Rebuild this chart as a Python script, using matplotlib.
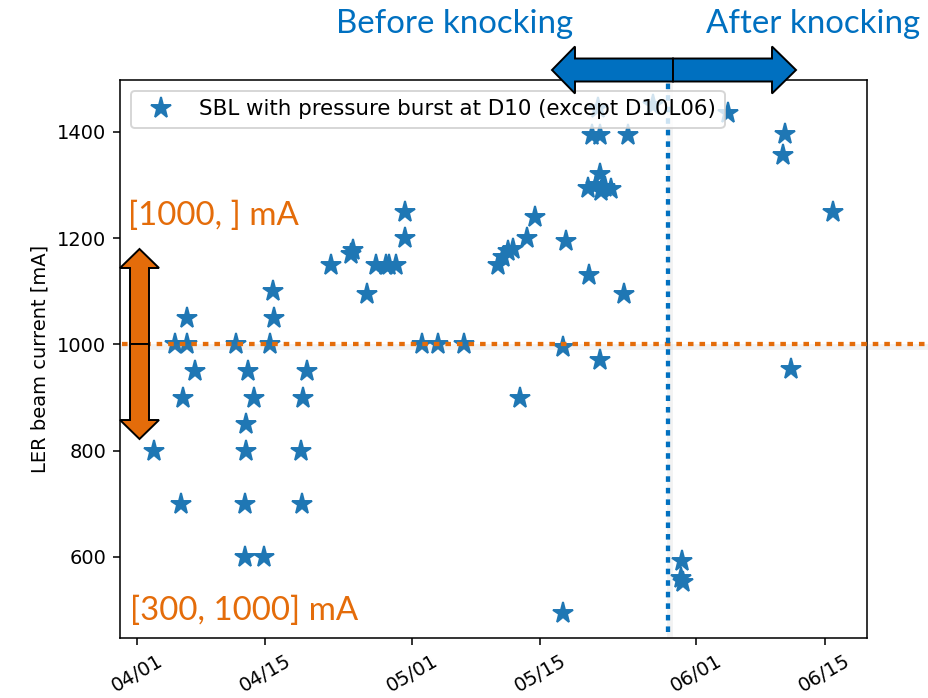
import numpy as np
import pandas as pd
import matplotlib
matplotlib.use('Agg')
import matplotlib.pyplot as plt
import matplotlib.dates as mdates
import matplotlib.transforms as mtransforms
from matplotlib.patches import Polygon

# SBL events with a pressure burst at D10 (date, LER beam current [mA])
event_time = ['2022-04-02 20:00', '2022-04-05 04:00', '2022-04-06 10:00', '2022-04-05 18:00',
              '2022-04-06 00:00', '2022-04-06 10:00', '2022-04-07 08:00', '2022-04-11 20:00',
              '2022-04-13 01:00', '2022-04-13 18:00', '2022-04-12 20:00', '2022-04-12 21:00',
              '2022-04-12 18:00', '2022-04-12 18:00', '2022-04-14 20:00', '2022-04-15 19:00',
              '2022-04-15 22:00', '2022-04-15 11:00', '2022-04-19 12:00', '2022-04-19 02:00',
              '2022-04-18 20:00', '2022-04-19 00:00', '2022-04-22 03:00', '2022-04-24 07:00',
              '2022-04-24 14:00', '2022-04-26 02:00', '2022-04-27 02:00', '2022-04-28 04:00',
              '2022-04-28 12:00', '2022-04-29 05:00', '2022-04-30 06:00', '2022-04-30 06:00',
              '2022-05-02 01:00', '2022-05-03 19:00', '2022-05-06 17:00', '2022-05-10 09:00',
              '2022-05-10 22:00', '2022-05-11 12:00', '2022-05-12 00:00', '2022-05-13 12:00',
              '2022-05-14 09:00', '2022-05-12 18:00', '2022-05-17 10:00', '2022-05-17 11:00',
              '2022-05-17 20:00', '2022-05-20 08:00', '2022-05-21 12:00', '2022-05-24 03:00',
              '2022-05-20 14:00', '2022-05-21 12:00', '2022-05-24 14:00', '2022-05-20 04:00',
              '2022-05-21 01:00', '2022-05-21 12:00', '2022-05-21 14:00', '2022-05-22 02:00',
              '2022-05-22 17:00', '2022-05-21 06:00', '2022-05-27 06:00', '2022-06-04 11:00',
              '2022-06-10 16:00', '2022-06-10 11:00', '2022-06-15 22:00', '2022-06-11 08:00',
              '2022-05-30 10:00', '2022-05-30 08:00', '2022-05-30 13:00']
event_current = [800, 1000, 1000, 700,
                 900, 1050, 950, 1000,
                 950, 900, 850, 800,
                 700, 600, 600, 1100,
                 1050, 1000, 950, 900,
                 800, 700, 1150, 1170,
                 1178, 1095, 1150, 1150,
                 1150, 1150, 1250, 1200,
                 1000, 1000, 1000, 1150,
                 1165, 1175, 1180, 1200,
                 1240, 900, 995, 495,
                 1195, 1130, 970, 1095,
                 1395, 1395, 1395, 1295,
                 1300, 1320, 1288, 1297,
                 1292, 1445, 1450, 1435,
                 1397, 1356, 1250, 953,
                 593, 561, 552]

knock_time = '2022-05-28 22:00'
threshold = 1000
label = 'SBL with pressure burst at D10 (except D10L06)'

c_blue = '#0070C0'
c_orange = '#E46C0A'

W, H = 928, 698
DPI = 140
fig = plt.figure(figsize=(W / DPI, H / DPI), dpi=DPI)
ax = fig.add_axes([120 / W, 1 - 638 / H, (867 - 120) / W, (638 - 80) / H])

t = pd.to_datetime(event_time)
ax.plot(t, event_current, '*', color='#1f77b4', markersize=11, label=label, linestyle='none')

ax.xaxis.set_major_locator(mdates.DayLocator(bymonthday=[1, 15]))
ax.xaxis.set_major_formatter(mdates.DateFormatter('%m/%d'))
plt.setp(ax.get_xticklabels(), rotation=30)
ax.set_yticks([600, 800, 1000, 1200, 1400])
ax.set_ylabel('LER beam current [mA]')
ax.legend(loc='upper left', fontsize=11)


def px(x, y):
    # pixel position (origin top-left) -> figure fraction
    return (x / W, 1 - y / H)


# threshold line, runs past the right edge of the axes
trans_h = mtransforms.blended_transform_factory(fig.transFigure, ax.transData)
shadow_h = mtransforms.offset_copy(trans_h, fig=fig, x=1, y=-3, units='dots')
ax.plot([122 / W, 926 / W], [threshold, threshold], color='gray', lw=3.0, alpha=0.1,
        transform=shadow_h, clip_on=False, zorder=3)
ax.plot([122 / W, 926 / W], [threshold, threshold], color=c_orange, lw=2.2,
        linestyle=(0, (1.3, 1.4)), transform=trans_h, clip_on=False, zorder=4)

# knocking date line
kt = mdates.date2num(pd.Timestamp(knock_time))
trans_v = mtransforms.blended_transform_factory(ax.transData, fig.transFigure)
shadow_v = mtransforms.offset_copy(trans_v, fig=fig, x=2, y=-2, units='dots')
ax.plot([kt, kt], [1 - 632 / H, 1 - 82 / H], color='gray', lw=3.0, alpha=0.1,
        transform=shadow_v, clip_on=False, zorder=3)
ax.plot([kt, kt], [1 - 632 / H, 1 - 82 / H], color=c_blue, lw=2.2,
        linestyle=(0, (1.3, 1.4)), transform=trans_v, clip_on=False, zorder=4)


def h_arrow(x0, x1, yc, sh, hh, hl, color):
    s = np.sign(x1 - x0)
    hb = x1 - s * hl
    pts = [(x0, yc - sh), (hb, yc - sh), (hb, yc - hh), (x1, yc),
           (hb, yc + hh), (hb, yc + sh), (x0, yc + sh)]
    return Polygon([px(*p) for p in pts], closed=True, transform=fig.transFigure,
                   facecolor=color, edgecolor='black', lw=1.0, zorder=10)


def v_arrow(y0, y1, xc, sh, hh, hl, color):
    s = np.sign(y1 - y0)
    hb = y1 - s * hl
    pts = [(xc - sh, y0), (xc - sh, hb), (xc - hh, hb), (xc, y1),
           (xc + hh, hb), (xc + sh, hb), (xc + sh, y0)]
    return Polygon([px(*p) for p in pts], closed=True, transform=fig.transFigure,
                   facecolor=color, edgecolor='black', lw=1.0, zorder=10)


for p in [h_arrow(673, 552, 70, 11.5, 23.5, 23, c_blue),
          h_arrow(673, 796, 70, 11.5, 23.5, 24, c_blue),
          v_arrow(344, 249, 139.5, 9.5, 19.5, 19, c_orange),
          v_arrow(344, 439, 139.5, 9.5, 19.5, 19, c_orange)]:
    fig.add_artist(p)

fig.text(*px(336, 33), 'Before knocking', color=c_blue, fontsize=17, family='Lato',
         ha='left', va='baseline')
fig.text(*px(706, 33), 'After knocking', color=c_blue, fontsize=17, family='Lato',
         ha='left', va='baseline')
fig.text(*px(128, 225), '[1000, ] mA', color=c_orange, fontsize=17, family='Lato',
         ha='left', va='baseline')
fig.text(*px(130, 620), '[300, 1000] mA', color=c_orange, fontsize=17, family='Lato',
         ha='left', va='baseline')

fig.savefig('out.png', dpi=DPI)
